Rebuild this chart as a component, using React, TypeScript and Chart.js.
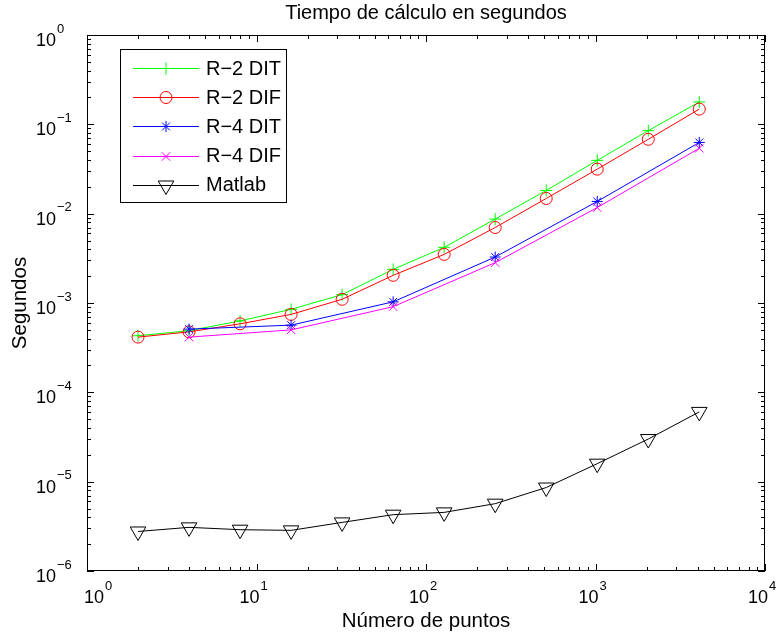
import React, { useEffect, useRef } from 'react';
import { Chart, registerables } from 'chart.js';

Chart.register(...registerables);

// ---- data ----
const pointsR2 = [2, 4, 8, 16, 32, 64, 128, 256, 512, 1024, 2048, 4096];
const pointsR4 = [4, 16, 64, 256, 1024, 4096];
const r2dit = [4.3e-4, 4.9e-4, 6.3e-4, 8.5e-4, 1.24e-3, 2.38e-3, 4.2e-3, 8.7e-3, 1.82e-2, 3.95e-2, 8.5e-2, 0.178];
const r2dif = [4.15e-4, 4.75e-4, 5.85e-4, 7.45e-4, 1.1e-3, 2.04e-3, 3.5e-3, 7.0e-3, 1.48e-2, 3.15e-2, 6.8e-2, 0.148];
const r4dit = [5.1e-4, 5.65e-4, 1.03e-3, 3.27e-3, 1.37e-2, 6.27e-2];
const r4dif = [4.15e-4, 5.0e-4, 9.1e-4, 2.83e-3, 1.17e-2, 5.4e-2];
const matlab = [2.77e-6, 3.08e-6, 2.9e-6, 2.85e-6, 3.5e-6, 4.27e-6, 4.53e-6, 5.67e-6, 8.6e-6, 1.59e-5, 3.0e-5, 6.04e-5];

const seriesNames = ['R\u22122 DIT', 'R\u22122 DIF', 'R\u22124 DIT', 'R\u22124 DIF', 'Matlab'];
const xTickExps = [0, 1, 2, 3, 4];
const yTickExps = [-6, -5, -4, -3, -2, -1, 0];
const titleText = 'Tiempo de c\u00e1lculo en segundos';
const xTitle = 'N\u00famero de puntos';
const yTitle = 'Segundos';

const FONT = '"Liberation Sans", Arial, Helvetica, sans-serif';

type Sty = { color: string; shape: string; r: number };
const styles: Sty[] = [
  { color: '#00ff00', shape: 'cross', r: 6 },
  { color: '#ff0000', shape: 'circle', r: 6 },
  { color: '#0000ff', shape: 'star', r: 5.5 },
  { color: '#ff00ff', shape: 'crossRot', r: 6 },
  { color: '#000000', shape: 'triangle', r: 9 },
];

function drawMarker(ctx: CanvasRenderingContext2D, shape: string, x: number, y: number, r: number) {
  ctx.beginPath();
  const c = Math.cos(Math.PI / 4) * r;
  if (shape === 'circle') {
    ctx.arc(x, y, r, 0, Math.PI * 2);
  } else if (shape === 'cross') {
    ctx.moveTo(x - r, y); ctx.lineTo(x + r, y);
    ctx.moveTo(x, y - r); ctx.lineTo(x, y + r);
  } else if (shape === 'crossRot') {
    ctx.moveTo(x - c, y - c); ctx.lineTo(x + c, y + c);
    ctx.moveTo(x + c, y - c); ctx.lineTo(x - c, y + c);
  } else if (shape === 'star') {
    ctx.moveTo(x - c, y - c); ctx.lineTo(x + c, y + c);
    ctx.moveTo(x + c, y - c); ctx.lineTo(x - c, y + c);
    ctx.moveTo(x - r, y); ctx.lineTo(x + r, y);
    ctx.moveTo(x, y - r); ctx.lineTo(x, y + r);
  } else if (shape === 'triangle') {
    const s = Math.sin(Math.PI / 3) * r;
    ctx.moveTo(x, y + r);
    ctx.lineTo(x - s, y - r / 2);
    ctx.lineTo(x + s, y - r / 2);
    ctx.closePath();
  }
  ctx.stroke();
}

// draws "10" with a superscript exponent; (left) is the left edge of "10"
function drawPow(ctx: CanvasRenderingContext2D, exp: number, left: number, y: number) {
  const base = '10';
  const e = exp < 0 ? '\u2212' + Math.abs(exp) : String(exp);
  ctx.textAlign = 'left';
  ctx.textBaseline = 'middle';
  ctx.font = `18px ${FONT}`;
  const wb = ctx.measureText(base).width;
  ctx.fillText(base, left, y);
  ctx.font = `13px ${FONT}`;
  ctx.fillText(e, left + wb + 1, y - 12);
}

const decor = {
  id: 'decor',
  afterDraw(chart: any) {
    const { ctx, chartArea: a, scales } = chart;
    const xs = scales.x;
    const ys = scales.y;
    ctx.save();
    ctx.strokeStyle = '#000';
    ctx.fillStyle = '#000';
    ctx.lineWidth = 1;
    ctx.setLineDash([]);
    // box
    ctx.strokeRect(a.left + 0.5, a.top + 0.5, a.right - a.left - 1, a.bottom - a.top - 1);
    // ticks
    ctx.beginPath();
    for (let e = 0; e <= 4; e++) {
      for (let m = 1; m <= 9; m++) {
        const v = m * Math.pow(10, e);
        if (v > 10000) break;
        const px = Math.round(xs.getPixelForValue(v)) + 0.5;
        const len = m === 1 ? 7 : 4;
        ctx.moveTo(px, a.bottom); ctx.lineTo(px, a.bottom - len);
        ctx.moveTo(px, a.top); ctx.lineTo(px, a.top + len);
      }
    }
    for (let e = -6; e <= 0; e++) {
      for (let m = 1; m <= 9; m++) {
        const v = m * Math.pow(10, e);
        if (v > 1.0000001) break;
        const py = Math.round(ys.getPixelForValue(v)) + 0.5;
        const len = m === 1 ? 7 : 4;
        ctx.moveTo(a.left, py); ctx.lineTo(a.left + len, py);
        ctx.moveTo(a.right, py); ctx.lineTo(a.right - len, py);
      }
    }
    ctx.stroke();
    // tick labels
    ctx.font = `18px ${FONT}`;
    const wb = ctx.measureText('10').width;
    xTickExps.forEach((e) => {
      const px = xs.getPixelForValue(Math.pow(10, e));
      const left = Math.max(px - wb + 3, 84);
      drawPow(ctx, e, left, 598);
    });
    yTickExps.forEach((e) => {
      const py = ys.getPixelForValue(Math.pow(10, e));
      drawPow(ctx, e, 56 - wb, py + 6);
    });
    // titles
    ctx.textAlign = 'center';
    ctx.textBaseline = 'middle';
    ctx.font = `20px ${FONT}`;
    ctx.fillText(titleText, (a.left + a.right) / 2, 13);
    ctx.font = `20.5px ${FONT}`;
    ctx.fillText(xTitle, (a.left + a.right) / 2, 621);
    ctx.save();
    ctx.translate(20, (a.top + a.bottom) / 2);
    ctx.rotate(-Math.PI / 2);
    ctx.fillText(yTitle, 0, 0);
    ctx.restore();
    // legend
    ctx.fillStyle = '#fff';
    ctx.fillRect(121, 50, 165, 152);
    ctx.strokeStyle = '#000';
    ctx.strokeRect(120.5, 49.5, 166, 153);
    const rowY = [68, 97, 126, 155.5, 184.5];
    seriesNames.forEach((name, i) => {
      const st = styles[i];
      const y = Math.round(rowY[i]) + 0.5;
      ctx.strokeStyle = st.color;
      ctx.lineWidth = 1;
      ctx.beginPath();
      ctx.moveTo(133, y); ctx.lineTo(199, y);
      ctx.stroke();
      drawMarker(ctx, st.shape, 166, y, st.r);
      ctx.fillStyle = '#000';
      ctx.font = `20px ${FONT}`;
      ctx.textAlign = 'left';
      ctx.textBaseline = 'middle';
      ctx.fillText(name, 206, rowY[i] + 1);
    });
    ctx.restore();
  },
};

function makeDataset(i: number, xs: number[], ys: number[]) {
  const st = styles[i];
  return {
    label: seriesNames[i],
    data: xs.map((x, k) => ({ x, y: ys[k] })),
    borderColor: st.color,
    borderWidth: 1,
    pointStyle: st.shape,
    pointRadius: st.r,
    pointRotation: st.shape === 'triangle' ? 180 : 0,
    pointBorderColor: st.color,
    pointBorderWidth: 1,
    pointBackgroundColor: 'rgba(0,0,0,0)',
    fill: false,
    tension: 0,
    order: 5 - i,
  };
}

export default function App() {
  const ref = useRef<HTMLCanvasElement | null>(null);
  useEffect(() => {
    if (!ref.current) return;
    const chart = new Chart(ref.current, {
      type: 'line',
      data: {
        datasets: [
          makeDataset(0, pointsR2, r2dit),
          makeDataset(1, pointsR2, r2dif),
          makeDataset(2, pointsR4, r4dit),
          makeDataset(3, pointsR4, r4dif),
          makeDataset(4, pointsR2, matlab),
        ] as any,
      },
      options: {
        animation: false,
        responsive: false,
        devicePixelRatio: 1,
        events: [],
        layout: { padding: { left: 87, top: 35, right: 13, bottom: 64 } },
        plugins: { legend: { display: false }, title: { display: false }, tooltip: { enabled: false } },
        scales: {
          x: { type: 'logarithmic', min: 1, max: 10000, display: false },
          y: { type: 'logarithmic', min: 1e-6, max: 1, display: false },
        },
      },
      plugins: [decor as any],
    });
    return () => chart.destroy();
  }, []);
  return (
    <div style={{ position: 'fixed', left: 0, top: 0, width: 778, height: 635, background: '#fff' }}>
      <canvas ref={ref} width={778} height={635} style={{ display: 'block' }} />
    </div>
  );
}
